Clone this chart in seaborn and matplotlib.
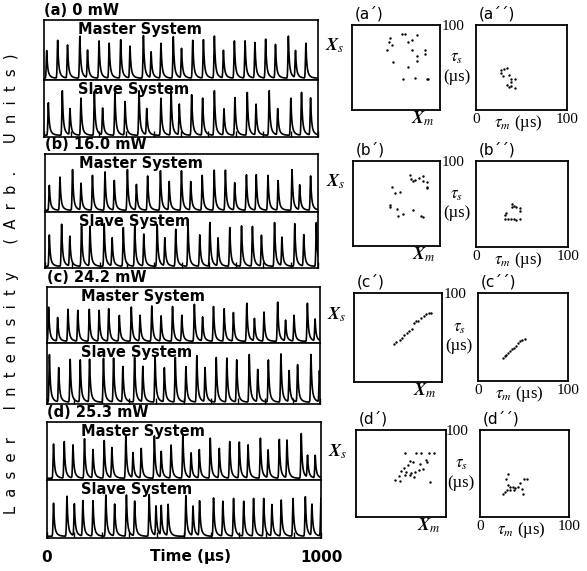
import numpy as np
import pandas as pd
import matplotlib
matplotlib.use("Agg")
import matplotlib.pyplot as plt
import seaborn as sns

# ---- pulse trains: peak times (us) and peak heights (fraction of trace height)
a_master_t = [10, 50, 86, 131, 159, 201, 238, 280, 314, 363, 391, 427, 472, 502,
              543, 582, 622, 655, 695, 734, 770, 809, 845, 892, 918, 956]
a_master_h = [0.46, 0.63, 0.55, 0.70, 0.46, 0.62, 0.58, 0.64, 0.53, 0.71, 0.43, 0.58, 0.69,
              0.49, 0.63, 0.64, 0.70, 0.46, 0.62, 0.62, 0.59, 0.65, 0.56, 0.70, 0.45, 0.58]
a_slave_t = [16, 67, 95, 135, 184, 214, 259, 296, 347, 375, 427, 464, 494, 539,
             579, 622, 657, 697, 742, 774, 822, 853, 901, 940, 973]
a_slave_h = [0.57, 0.78, 0.46, 0.65, 0.77, 0.47, 0.74, 0.59, 0.78, 0.46, 0.65, 0.78, 0.54,
             0.71, 0.65, 0.78, 0.46, 0.66, 0.75, 0.54, 0.78, 0.46, 0.65, 0.75, 0.65]

b_master_t = [16, 55, 101, 132, 174, 220, 254, 302, 335, 376, 423, 455, 500, 534,
              576, 620, 661, 695, 738, 774, 817, 854, 905, 933, 973]
b_master_h = [0.43, 0.57, 0.70, 0.46, 0.60, 0.66, 0.51, 0.70, 0.44, 0.59, 0.68, 0.49, 0.68,
              0.49, 0.60, 0.69, 0.69, 0.47, 0.61, 0.61, 0.60, 0.51, 0.70, 0.43, 0.59]
b_slave_t = [16, 61, 91, 134, 165, 217, 246, 287, 329, 362, 411, 439, 479, 524,
             567, 604, 634, 677, 720, 760, 793, 841, 868, 915, 948, 994]
b_slave_h = [0.56, 0.75, 0.53, 0.72, 0.71, 0.76, 0.50, 0.69, 0.72, 0.57, 0.74, 0.50, 0.66,
             0.75, 0.56, 0.78, 0.50, 0.69, 0.72, 0.71, 0.55, 0.78, 0.51, 0.76, 0.56, 0.78]

c_master_t = [6, 39, 77, 113, 155, 191, 226, 265, 309, 341, 384, 418, 460, 494,
              540, 570, 610, 649, 683, 732, 760, 795, 845, 874, 905, 954, 982]
c_master_h = [0.61, 0.42, 0.57, 0.55, 0.57, 0.55, 0.58, 0.46, 0.61, 0.46, 0.63, 0.45, 0.62,
              0.46, 0.66, 0.43, 0.62, 0.58, 0.51, 0.68, 0.40, 0.52, 0.70, 0.37, 0.46, 0.68, 0.39]
c_slave_t = [9, 43, 85, 122, 156, 207, 244, 278, 321, 351, 396, 430, 470, 509,
             549, 579, 620, 659, 695, 741, 772, 811, 857, 887, 918, 967, 998]
c_slave_h = [0.78, 0.56, 0.70, 0.69, 0.70, 0.72, 0.72, 0.58, 0.73, 0.58, 0.75, 0.56, 0.73,
             0.58, 0.76, 0.56, 0.73, 0.72, 0.69, 0.78, 0.53, 0.69, 0.79, 0.51, 0.61, 0.78, 0.51]

d_master_t = [24, 63, 95, 137, 168, 209, 237, 288, 314, 344, 392, 417, 453, 496,
              526, 556, 596, 629, 667, 702, 734, 779, 807, 848, 876, 928, 951, 979]
d_master_h = [0.59, 0.63, 0.57, 0.68, 0.49, 0.65, 0.52, 0.74, 0.43, 0.51, 0.73, 0.45, 0.57, 0.75,
              0.43, 0.49, 0.69, 0.51, 0.63, 0.62, 0.57, 0.69, 0.48, 0.67, 0.65, 0.77, 0.38, 0.39]
d_slave_t = [24, 73, 100, 131, 168, 215, 247, 290, 320, 373, 398, 417, 442, 507,
             533, 557, 608, 642, 681, 718, 754, 791, 821, 855, 898, 943, 967, 1000]
d_slave_h = [0.57, 0.69, 0.55, 0.61, 0.61, 0.71, 0.55, 0.71, 0.60, 0.72, 0.51, 0.51, 0.54, 0.70,
             0.51, 0.60, 0.66, 0.60, 0.65, 0.60, 0.65, 0.65, 0.54, 0.62, 0.65, 0.68, 0.54, 0.66]

# ---- return maps: peak intensity (X_m, X_s) and interval (tau_m, tau_s, us)
a_xm = [.43, .42, .45, .40, .57, .60, .64, .68, .74, .68, .74, .74, .83, .83, .47, .64, .58, .72, .85, .86]
a_xs = [.85, .80, .76, .71, .89, .89, .80, .82, .88, .71, .63, .58, .71, .66, .56, .51, .37, .38, .37, .36]
a_tm = [28, 31, 34, 28, 30, 36, 39, 43, 38, 34, 36, 39, 43]
a_ts = [47, 48, 49, 43, 40, 41, 37, 37, 33, 29, 27, 28, 26]

b_xm = [.66, .67, .69, .71, .76, .80, .81, .85, .85, .85, .45, .48, .54, .43, .43, .50, .52, .57, .69, .78, .80]
b_xs = [.84, .79, .77, .78, .80, .82, .77, .75, .70, .68, .70, .62, .64, .48, .46, .44, .35, .38, .42, .35, .34]
b_tm = [39, 41, 44, 48, 39, 48, 33, 31, 32, 35, 38, 41, 44, 48]
b_ts = [50, 48, 46, 45, 46, 42, 40, 37, 33, 32, 33, 32, 31, 33]

c_xm = [.45, .48, .52, .54, .57, .60, .62, .66, .68, .71, .73, .76, .79, .82, .85, .87]
c_xs = [.43, .45, .47, .50, .53, .55, .57, .60, .66, .68, .69, .72, .74, .76, .77, .78]
c_tm = [28, 30, 31, 33, 35, 38, 40, 42, 44, 47, 49, 52]
c_ts = [26, 28, 30, 32, 34, 36, 38, 40, 43, 45, 47, 48]

d_xm = [.54, .67, .72, .81, .87, .78, .79, .60, .63, .58, .71, .53, .50, .56, .61, .66, .70, .74,
        .48, .54, .60, .64, .43, .49, .82]
d_xs = [.73, .73, .73, .73, .73, .66, .63, .64, .63, .60, .61, .56, .53, .52, .51, .52, .54, .55,
        .47, .48, .48, .46, .42, .41, .40]
d_tm = [31, 29, 32, 34, 37, 39, 43, 45, 49, 53, 47, 48, 26, 28, 30, 34, 38]
d_ts = [50, 44, 37, 34, 35, 33, 34, 39, 44, 44, 32, 26, 27, 29, 31, 31, 31]

power_labels = ["(a) 0 mW", "(b) 16.0 mW", "(c) 24.2 mW", "(d) 25.3 mW"]
letters = ["a", "b", "c", "d"]

W, H = 587, 571


def make_trace(peak_t, peak_h):
    # smooth pulse drawn around each read-off peak
    t = np.arange(0, 1000.5, 0.5)
    y = np.full_like(t, 0.03)
    for t0, h in zip(peak_t, peak_h):
        dt = t - t0
        rise = np.exp(-(dt / 2.4) ** 2)
        dp = np.clip(dt, 0, None)
        fall = 0.68 * np.exp(-dp / 2.8) + 0.32 * np.exp(-dp / 9.0)
        y += h * np.where(dt < 0, rise, fall)
    return pd.DataFrame({"time": t, "intensity": y})


def px_axes(fig, x0, y0, x1, y1):
    return fig.add_axes([x0 / W, 1 - y1 / H, (x1 - x0) / W, (y1 - y0) / H])


def style_box(ax, lw=1.2):
    for s in ax.spines.values():
        s.set_visible(True)
        s.set_color("black")
        s.set_linewidth(lw)
    ax.set_facecolor("white")


sns.set_theme(style="white")
plt.rcParams["font.family"] = ["DejaVu Sans"]
plt.rcParams["mathtext.fontset"] = "stix"
plt.rcParams["text.color"] = "black"
plt.rcParams["axes.labelcolor"] = "black"
plt.rcParams["xtick.color"] = "black"
plt.rcParams["ytick.color"] = "black"

fig = plt.figure(figsize=(W / 100, H / 100), dpi=100)
fig.patch.set_facecolor("white")

traces = [
    (a_master_t, a_master_h, a_slave_t, a_slave_h),
    (b_master_t, b_master_h, b_slave_t, b_slave_h),
    (c_master_t, c_master_h, c_slave_t, c_slave_h),
    (d_master_t, d_master_h, d_slave_t, d_slave_h),
]
maps = [
    (a_xm, a_xs, a_tm, a_ts),
    (b_xm, b_xs, b_tm, b_ts),
    (c_xm, c_xs, c_tm, c_ts),
    (d_xm, d_xs, d_tm, d_ts),
]

# pixel layout of each row: (left, right, top, divider, bottom)
ts_boxes = [(44, 318, 20, 80, 137), (45, 318, 154, 212, 268),
            (47, 320, 287, 343, 404), (47, 321, 422, 480, 538)]
x_boxes = [(352, 440, 25, 110), (353, 440, 161, 246), (354, 442, 293, 382), (356, 446, 430, 517)]
tau_boxes = [(476, 567, 25, 110), (476, 568, 161, 247), (478, 568, 293, 381), (480, 569, 430, 517)]

serif = "Liberation Serif"

for i in range(4):
    mt, mh, st, sh = traces[i]
    left, right, top, mid, bot = ts_boxes[i]
    ax_m = px_axes(fig, left, top, right, mid)
    ax_s = px_axes(fig, left, mid, right, bot)
    for ax, (pt, ph), name in [(ax_m, (mt, mh), "Master System"), (ax_s, (st, sh), "Slave System")]:
        df = make_trace(pt, ph)
        sns.lineplot(data=df, x="time", y="intensity", ax=ax, color="black", linewidth=1.2)
        ax.set_xlim(0, 1000)
        ax.set_ylim(0, 1)
        ax.set_xlabel("")
        ax.set_ylabel("")
        ax.set_yticks([])
        style_box(ax)
        ax.text(0.125, 0.96, name, transform=ax.transAxes, ha="left", va="top",
                fontsize=10.5, fontweight="bold")
    ax_m.set_xticks([])
    ax_s.set_xticks(np.arange(0, 1001, 100))
    ax_s.tick_params(axis="x", bottom=True, direction="in", length=4, width=1, color="black",
                     pad=9, labelsize=11)
    if i == 3:
        ax_s.set_xticklabels(["0"] + [""] * 9 + ["1000"], fontweight="bold")
        ax_s.set_xlabel("Time (µs)", fontsize=11, fontweight="bold")
        ax_s.xaxis.set_label_coords(0.525, -0.19)
    else:
        ax_s.set_xticklabels([])
    ax_m.text(0.0, 1.03, power_labels[i], transform=ax_m.transAxes, ha="left", va="bottom",
              fontsize=10.5, fontweight="bold")

    # intensity return map
    xm, xs, tm, tsv = maps[i]
    x0, x1, y0, y1 = x_boxes[i]
    ax_x = px_axes(fig, x0, y0, x1, y1)
    sns.scatterplot(x=xm, y=xs, ax=ax_x, color="black", s=3, linewidth=0)
    ax_x.set_xlim(0, 1)
    ax_x.set_ylim(0, 1)
    ax_x.set_xticks([])
    ax_x.set_yticks([])
    style_box(ax_x, 1.3)
    ax_x.text(-0.2, 0.75, r"$\mathbfit{X}_{s}$", transform=ax_x.transAxes,
              ha="center", va="center", fontsize=13)
    ax_x.text(0.81, -0.1, r"$\mathbfit{X}_{m}$", transform=ax_x.transAxes,
              ha="center", va="center", fontsize=13)
    ax_x.text(0.03, 1.04, "(" + letters[i] + "´)", transform=ax_x.transAxes,
              ha="left", va="bottom", fontsize=11)

    # interval return map
    x0, x1, y0, y1 = tau_boxes[i]
    ax_t = px_axes(fig, x0, y0, x1, y1)
    sns.scatterplot(x=tm, y=tsv, ax=ax_t, color="black", s=3, linewidth=0)
    ax_t.set_xlim(0, 100)
    ax_t.set_ylim(0, 100)
    style_box(ax_t, 1.3)
    ax_t.set_xticks([0, 100])
    ax_t.set_xticklabels(["0", "100"], fontfamily=serif, fontsize=11)
    ax_t.set_yticks([100])
    ax_t.set_yticklabels(["100"], fontfamily=serif, fontsize=11)
    ax_t.tick_params(axis="x", length=0, pad=2)
    ax_t.tick_params(axis="y", length=0, pad=8)
    ax_t.set_xlabel(r"$\tau_m$ (µs)", fontfamily=serif, fontsize=12)
    ax_t.xaxis.set_label_coords(0.46, -0.03)
    ax_t.set_ylabel(r"$\tau_s$" + "\n(µs)", fontfamily=serif, fontsize=12,
                    rotation=0, ha="center", va="center")
    ax_t.yaxis.set_label_coords(-0.21, 0.5)
    ax_t.text(0.03, 1.04, "(" + letters[i] + "´´)", transform=ax_t.transAxes,
              ha="left", va="bottom", fontsize=11)

ylab = "      ".join("  ".join(word) for word in ["Laser", "Intensity", "(Arb.", "Units)"])
fig.text(12 / W, 1 - 284 / H, ylab, rotation=90, ha="center", va="center", fontsize=10.5)

fig.savefig("out.png", dpi=100, facecolor="white")
